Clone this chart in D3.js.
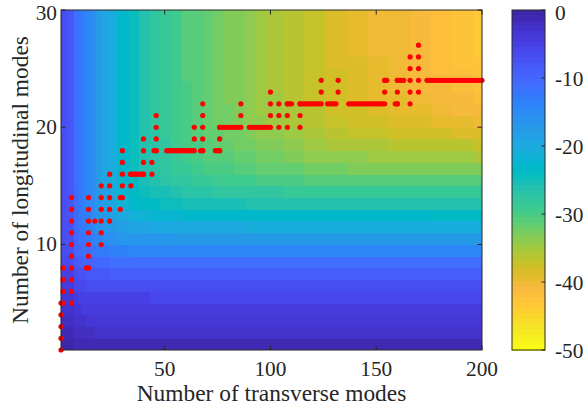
<!DOCTYPE html>
<html><head><meta charset="utf-8">
<script src="https://cdn.jsdelivr.net/npm/d3@7"></script>
<style>body{margin:0;background:#fff}svg{display:block}text{font-family:"Liberation Serif","Times New Roman",serif;fill:#262626}</style>
</head><body><svg id="c" width="584" height="409"></svg>
<script>
// ---- data ----
const xTicks = [50, 100, 150, 200];
const yTicks = [10, 20, 30];
const cbTicks = [0, -10, -20, -30, -40, -50];
// value of the map where the transverse-mode term dominates (top rows), sampled along x
const colSampleX = [1,3,5,7,9,11,13,15,18,21,25,30,35,40,45,50,55,60,65,70,75,80,85,90,95,100,110,120,130,140,150,160,170,180,190,200];
const colSampleV = [-7,-7.5,-8,-11,-12.5,-13.5,-14.5,-15.5,-17.5,-19,-21,-23,-25,-26.5,-27.5,-28.5,-29.5,-30.5,-31,-32,-32.5,-33,-33.5,-34.2,-34.8,-35.4,-36.4,-37.4,-38.4,-39.2,-40,-40.6,-41.3,-42,-42.6,-43.2];
// value where the longitudinal-mode term dominates, for y = 1..29
const rowV = [-1.5,-2.5,-3.5,-4.5,-5.5,-7,-9,-11.5,-14.5,-17.5,-20.5,-23.5,-26.5,-29,-31.5,-34,-36,-38,-40.5,-43,-45,-47,-50,-52,-54,-56,-58,-60,-62];
// optimum points: vertical runs [x, yFrom, yTo] and horizontal runs [y, xFrom, xTo]
const vRuns = [[1,1,5],[2,5,8],[6,5,14],[13,8,8],[14,8,14],[17,12,12],[20,10,15],[24,12,16],[29,13,14],[30,14,18],[34,15,16],[40,16,19],[44,16,17],[46,18,21],[64,18,20],[68,18,22],[76,18,20],[86,20,22],[100,20,23],[104,20,22],[108,20,22],[114,20,22],[124,22,24],[132,23,24],[154,22,24],[160,22,24],[166,22,26],[170,23,27]];
const hRuns = [[16,34,40],[18,45,46],[18,51,63],[18,67,68],[18,74,76],[20,76,85],[20,90,99],[22,108,110],[22,114,123],[22,127,131],[22,137,153],[24,154,155],[22,159,160],[24,160,163],[24,174,200]];
// parula(64) colormap
const parula = [[0.2422,0.1504,0.6603],[0.2504,0.1650,0.7076],[0.2578,0.1818,0.7511],[0.2647,0.1978,0.7952],[0.2706,0.2147,0.8364],[0.2751,0.2342,0.8710],[0.2783,0.2559,0.8991],[0.2803,0.2782,0.9221],[0.2813,0.3006,0.9414],[0.2810,0.3228,0.9579],[0.2795,0.3447,0.9717],[0.2760,0.3667,0.9829],[0.2699,0.3892,0.9906],[0.2602,0.4123,0.9952],[0.2440,0.4358,0.9988],[0.2206,0.4603,0.9973],[0.1963,0.4847,0.9892],[0.1834,0.5074,0.9798],[0.1786,0.5289,0.9682],[0.1764,0.5499,0.9520],[0.1687,0.5703,0.9359],[0.1540,0.5902,0.9218],[0.1460,0.6091,0.9079],[0.1380,0.6276,0.8973],[0.1248,0.6459,0.8883],[0.1113,0.6635,0.8763],[0.0952,0.6798,0.8598],[0.0689,0.6948,0.8394],[0.0297,0.7082,0.8163],[0.0036,0.7203,0.7917],[0.0067,0.7312,0.7660],[0.0433,0.7411,0.7394],[0.0964,0.7500,0.7120],[0.1408,0.7584,0.6842],[0.1717,0.7670,0.6554],[0.1938,0.7758,0.6251],[0.2161,0.7843,0.5923],[0.2470,0.7918,0.5567],[0.2906,0.7973,0.5188],[0.3406,0.8008,0.4789],[0.3909,0.8029,0.4354],[0.4456,0.8024,0.3909],[0.5044,0.7993,0.3480],[0.5616,0.7942,0.3045],[0.6174,0.7876,0.2612],[0.6720,0.7793,0.2227],[0.7242,0.7698,0.1910],[0.7738,0.7598,0.1646],[0.8203,0.7498,0.1535],[0.8634,0.7406,0.1596],[0.9035,0.7330,0.1774],[0.9393,0.7288,0.2100],[0.9728,0.7298,0.2394],[0.9956,0.7434,0.2371],[0.9970,0.7659,0.2199],[0.9952,0.7893,0.2028],[0.9892,0.8136,0.1885],[0.9786,0.8386,0.1766],[0.9676,0.8639,0.1643],[0.9610,0.8890,0.1537],[0.9597,0.9135,0.1423],[0.9628,0.9373,0.1265],[0.9691,0.9606,0.1064],[0.9769,0.9839,0.0805]];

// ---- layout ----
const svg = d3.select('#c');
const L = 61, R = 482, T = 10, B = 350;
const x = d3.scaleLinear().domain([1, 200]).range([L, R]);
const y = d3.scaleLinear().domain([1, 30]).range([B, T]);
const cmap = parula.map(c => d3.rgb(c[0]*255, c[1]*255, c[2]*255).toString());
const cq = d3.scaleQuantize().domain([0, 50]).range(cmap); // t = -value
const color = v => cq(Math.max(0, Math.min(50, -v)));

function colVal(xi) {
  let best = 0;
  colSampleX.forEach((s, i) => { if (Math.abs(s - xi) < Math.abs(colSampleX[best] - xi)) best = i; });
  return colSampleV[best];
}
function cellVal(xi, yi) {
  const a = colVal(xi), b = rowV[yi - 1];
  return 10 * Math.log10(Math.pow(10, a / 10) + Math.pow(10, b / 10));
}
const cells = [];
for (let xi = 1; xi < 200; xi++) for (let yi = 1; yi < 30; yi++) cells.push({xi, yi, v: cellVal(xi, yi)});

svg.append('g').attr('shape-rendering', 'crispEdges').selectAll('rect').data(cells).join('rect')
  .attr('x', d => x(d.xi)).attr('y', d => y(d.yi + 1))
  .attr('width', d => x(d.xi + 1) - x(d.xi) + 0.4).attr('height', d => y(d.yi) - y(d.yi + 1) + 0.4)
  .attr('fill', d => color(d.v));

// ---- points ----
const pts = [];
vRuns.forEach(([px, y0, y1]) => { for (let k = y0; k <= y1; k++) pts.push([px, k]); });
hRuns.forEach(([py, x0, x1]) => { for (let k = x0; k <= x1; k++) pts.push([k, py]); });
svg.append('g').selectAll('circle').data(pts).join('circle')
  .attr('cx', d => x(d[0])).attr('cy', d => y(d[1])).attr('r', 2.6).attr('fill', '#ff0000');

// ---- axes box and ticks ----
const ax = svg.append('g').attr('stroke', '#262626').attr('stroke-width', 1).attr('fill', 'none');
ax.append('rect').attr('x', L).attr('y', T).attr('width', R - L).attr('height', B - T);
const tl = 4.5;
xTicks.forEach(t => {
  ax.append('line').attr('x1', x(t)).attr('x2', x(t)).attr('y1', B).attr('y2', B - tl);
  ax.append('line').attr('x1', x(t)).attr('x2', x(t)).attr('y1', T).attr('y2', T + tl);
});
yTicks.forEach(t => {
  ax.append('line').attr('x1', L).attr('x2', L + tl).attr('y1', y(t)).attr('y2', y(t));
  ax.append('line').attr('x1', R).attr('x2', R - tl).attr('y1', y(t)).attr('y2', y(t));
});
const tf = 21.3;
svg.append('g').selectAll('text').data(xTicks).join('text')
  .attr('x', d => x(d)).attr('y', 375.5).attr('text-anchor', 'middle').attr('font-size', tf).text(d => d);
svg.append('g').selectAll('text').data(yTicks).join('text')
  .attr('x', 57).attr('y', d => Math.max(y(d) + 6.5, 19.5)).attr('text-anchor', 'end').attr('font-size', tf).text(d => d);
svg.append('text').attr('x', (L + R) / 2).attr('y', 401).attr('text-anchor', 'middle').attr('font-size', 23.4)
  .text('Number of transverse modes');
svg.append('text').attr('transform', `translate(28,${(T + B) / 2}) rotate(-90)`).attr('text-anchor', 'middle')
  .attr('font-size', 23.4).text('Number of longitudinal modes');

// ---- colorbar ----
const cbL = 512, cbR = 545;
const cy = d3.scaleLinear().domain([0, -50]).range([T, B]);
const cbSteps = d3.range(64);
svg.append('g').attr('shape-rendering', 'crispEdges').selectAll('rect').data(cbSteps).join('rect')
  .attr('x', cbL).attr('width', cbR - cbL)
  .attr('y', i => cy(-i * 50 / 64)).attr('height', i => cy(-(i + 1) * 50 / 64) - cy(-i * 50 / 64) + 0.5)
  .attr('fill', i => cmap[i]);
const cb = svg.append('g').attr('stroke', '#262626').attr('fill', 'none');
cb.append('rect').attr('x', cbL).attr('y', T).attr('width', cbR - cbL).attr('height', B - T);
cbTicks.forEach(t => cb.append('line').attr('x1', cbR).attr('x2', cbR - 3.5).attr('y1', cy(t)).attr('y2', cy(t)));
svg.append('g').selectAll('text').data(cbTicks).join('text')
  .attr('x', 555).attr('y', d => Math.max(cy(d) + 7.5, 19.5)).attr('font-size', tf).text(d => d === 0 ? '0' : '-' + Math.abs(d));
</script></body></html>
